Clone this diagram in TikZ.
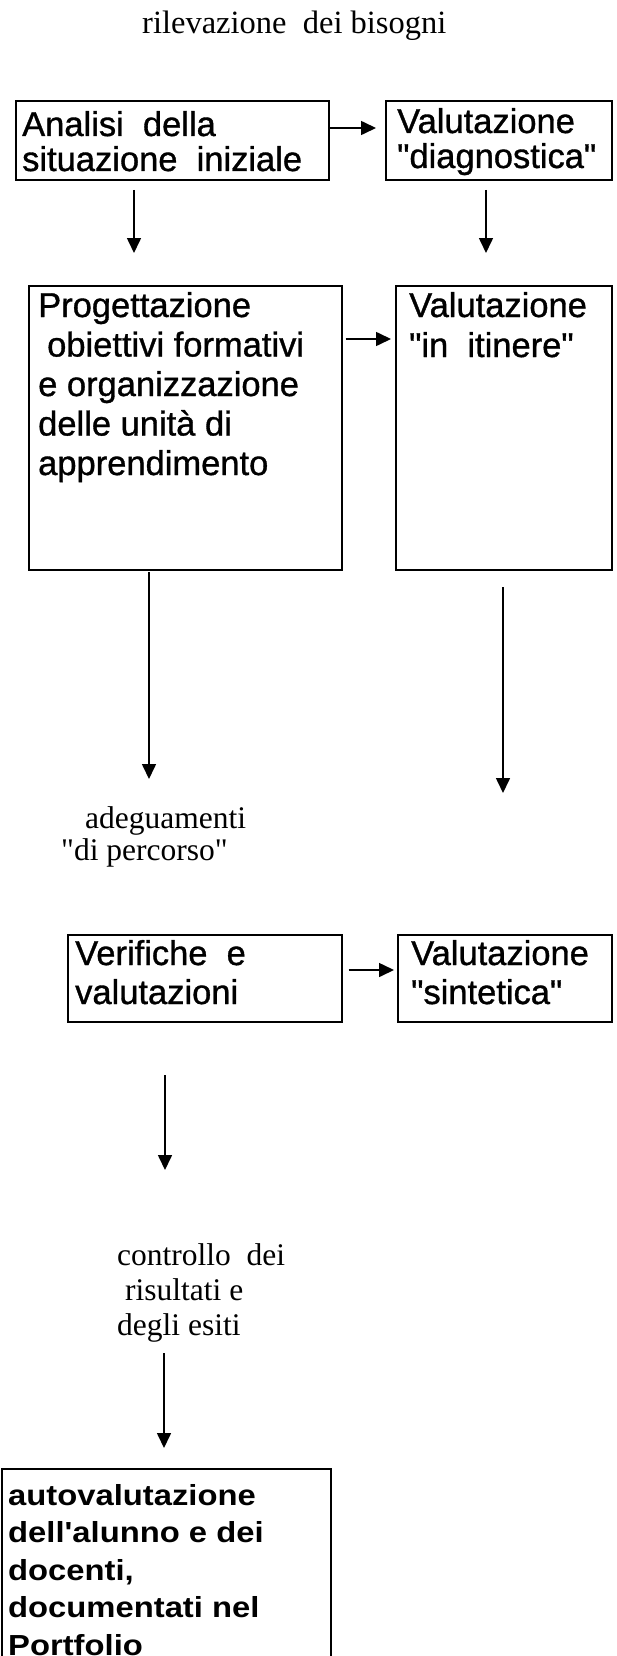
\documentclass[tikz,border=0pt]{standalone}
\usepackage{fontspec}
\setmainfont{Liberation Serif}
\newfontfamily\serfont{Liberation Serif}
\newfontfamily\boxfont{Liberation Sans}[FakeBold=1.0]
\newfontfamily\gfont{Liberation Sans Bold}[FakeStretch=1.13]
\usetikzlibrary{arrows.meta}
\begin{document}
\begin{tikzpicture}[x=1pt,y=-1pt,
  box/.style={draw, line width=1.6pt, inner sep=0pt, anchor=north west},
  txt/.style={anchor=base west, inner sep=0pt},
  arr/.style={line width=1.6pt, -{Triangle[length=15pt,width=14pt]}},
  harr/.style={line width=1.6pt, -{Triangle[length=15pt,width=14pt]}},
  sans/.style={font=\boxfont\fontsize{34.5}{#1}\selectfont},
  serif/.style={font=\serfont\fontsize{31.5}{#1}\selectfont}
]
\useasboundingbox (0,0) rectangle (617,1656);

% title
\node[txt, font=\serfont\fontsize{32.5}{34}\selectfont] (title) at (142,34) {rilevazione\ \ dei bisogni};

% row 1
\node[box, minimum width=313pt, minimum height=79pt] (A) at (15,100) {};
\node[box, minimum width=226pt, minimum height=79pt] (B) at (385,100) {};
\node[txt, sans=35] (Atxt) at (22,136) {\parbox[t]{300pt}{\raggedright Analisi\ \ della\\situazione\ \ iniziale}};
\node[txt, sans=35] (Btxt) at (397,133) {\parbox[t]{210pt}{\raggedright Valutazione\\"diagnostica"}};
\draw[harr] ([yshift=-28pt]A.north east) -- ([yshift=-28pt,xshift=-9pt]B.north west);

\coordinate (a1) at (134,190); \coordinate (a2) at (134,253);
\coordinate (b1) at (486,190); \coordinate (b2) at (486,253);
\draw[arr] (a1) -- (a2);
\draw[arr] (b1) -- (b2);

% row 2
\node[box, minimum width=313pt, minimum height=284pt] (C) at (28,285) {};
\node[box, minimum width=216pt, minimum height=284pt] (D) at (395,285) {};
\node[txt, sans=39.5] (Ctxt) at (38,317) {\parbox[t]{300pt}{\raggedright Progettazione\\\hspace*{9pt}obiettivi formativi\\e organizzazione\\delle unità di\\apprendimento}};
\node[txt, sans=40] (Dtxt) at (409,317) {\parbox[t]{200pt}{\raggedright Valutazione\\"in\ \ itinere"}};
\draw[harr] ([yshift=-54pt,xshift=3pt]C.north east) -- ([yshift=-54pt,xshift=-4pt]D.north west);

\coordinate (c1) at (149,572); \coordinate (c2) at (149,779);
\coordinate (d1) at (503,587); \coordinate (d2) at (503,793);
\draw[arr] (c1) -- (c2);
\draw[arr] (d1) -- (d2);

\node[txt, serif=32] (adeg) at (61,828) {\parbox[t]{250pt}{\raggedright\hspace*{24pt}adeguamenti\\"di percorso"}};

% row 3
\node[box, minimum width=274pt, minimum height=87pt] (E) at (67,934) {};
\node[box, minimum width=214pt, minimum height=87pt] (F) at (397,934) {};
\node[txt, sans=39] (Etxt) at (75,965) {\parbox[t]{260pt}{\raggedright Verifiche\ \ e\\valutazioni}};
\node[txt, sans=39] (Ftxt) at (411,965) {\parbox[t]{200pt}{\raggedright Valutazione\\"sintetica"}};
\draw[harr] ([yshift=-36pt,xshift=6pt]E.north east) -- ([yshift=-36pt,xshift=-3pt]F.north west);

\coordinate (e1) at (165,1075); \coordinate (e2) at (165,1170);
\draw[arr] (e1) -- (e2);

\node[txt, serif=35] (contr) at (117,1265) {\parbox[t]{250pt}{\raggedright controllo\ \ dei\\\hspace*{8pt}risultati e\\degli esiti}};

\coordinate (f1) at (164,1353); \coordinate (f2) at (164,1448);
\draw[arr] (f1) -- (f2);

% bottom box
\node[box, minimum width=329pt, minimum height=240pt] (G) at (1,1468) {};
\node[txt, font=\gfont\fontsize{29}{37.5}\selectfont] (Gtxt) at (8,1505) {\parbox[t]{320pt}{\raggedright autovalutazione\\dell'alunno e dei\\docenti,\\documentati nel\\Portfolio}};
\end{tikzpicture}
\end{document}
